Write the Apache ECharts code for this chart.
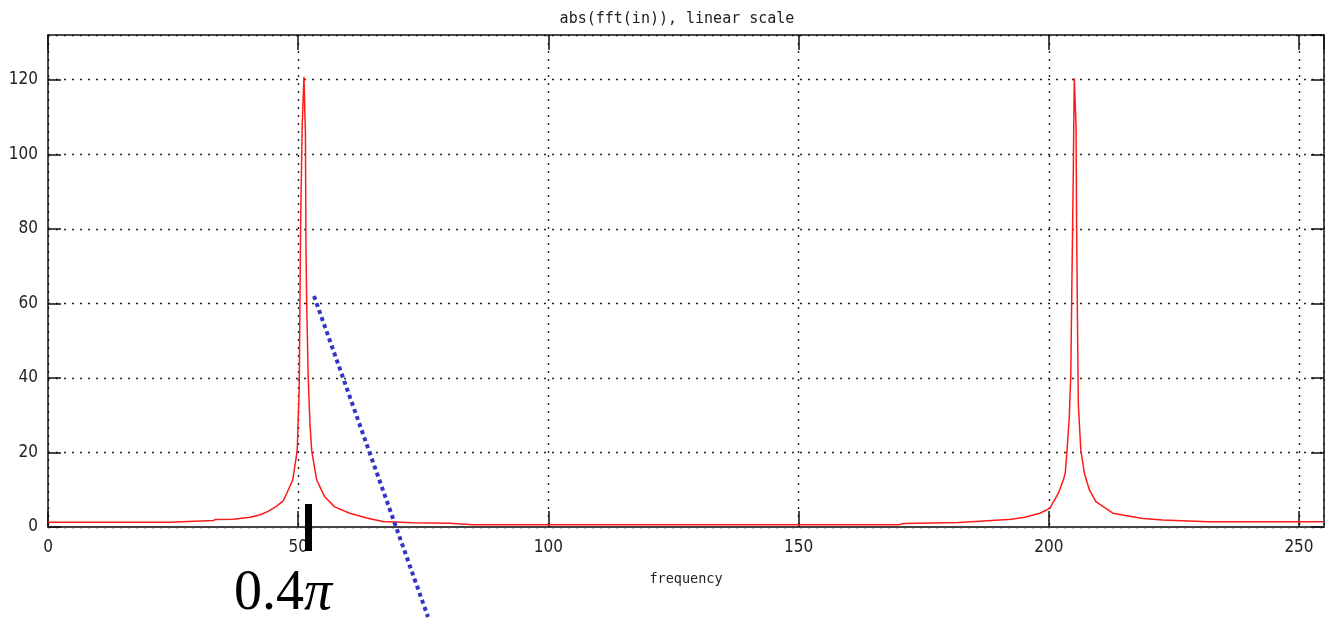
<!DOCTYPE html>
<html>
<head>
<meta charset="utf-8">
<title>abs(fft(in)), linear scale</title>
<script src="https://cdn.jsdelivr.net/npm/echarts@6/dist/echarts.min.js"></script>
<style>
  html, body { margin: 0; padding: 0; background: #ffffff; }
  #chart { width: 1325px; height: 618px; }
</style>
</head>
<body>
<div id="chart"></div>
<script>
// Magnitude spectrum of a sampled sinusoid (256-point FFT, tone at 0.4*pi)
const chartTitle = 'abs(fft(in)), linear scale';
const xAxisName = 'frequency';

// frequency positions (bins) and |FFT| magnitude at those positions
const freq = [
  0, 12, 24.3, 24.5, 33, 33.5, 37, 40.4, 42.4, 44.0, 45.7, 47.0, 47.7, 48.9, 49.8,
  50.2, 50.5, 50.8, 51.15, 51.45, 51.55, 51.7, 52.0, 52.35, 52.7, 53.7, 55.3, 57.3,
  60.3, 63.7, 66.9, 72.9, 80.3, 85, 170, 171, 182, 190.2, 192.5, 195.2, 198.2, 200.2,
  201.9, 202.9, 203.3, 203.7, 204.1, 204.4, 204.6, 204.9, 205.0, 205.1, 205.45,
  205.55, 205.7, 205.9, 206.4, 207.1, 208.1, 209.4, 212.8, 218.8, 222.8, 231.8, 255
];
const magnitude = [
  1.25, 1.25, 1.3, 1.65, 1.75, 2.0, 2.1, 2.6, 3.3, 4.2, 5.6, 7.0, 9.0, 12.6, 20.4,
  37, 83, 107.5, 120.8, 105, 75, 60, 40, 27.8, 20.4, 12.6, 8.1, 5.4,
  3.7, 2.4, 1.5, 1.15, 1.0, 0.6, 0.6, 0.95, 1.2, 1.9, 2.1, 2.6, 3.7, 5.0,
  9.0, 12.6, 14.5, 21.6, 29.6, 41, 63.6, 95, 108.8, 120.4, 107.5,
  83, 60, 33, 20.7, 14.5, 10, 6.8, 3.7, 2.3, 1.9, 1.4, 1.4
];

// axis ranges and tick spacing
const xRange = [0, 255];
const xStep = 50;
const yRange = [0, 132];
const yStep = 20;

// marker text under the frequency axis
const markerText = '0.4';
const markerSymbol = 'π';

const labelFont = "'Liberation Sans Narrow', 'DejaVu Sans Condensed', 'Liberation Sans', sans-serif";
const monoFont = "'DejaVu Sans Mono', 'Liberation Mono', monospace";
const gridDots = { type: [2, 6], color: '#222', width: 1.4 };

const chart = echarts.init(document.getElementById('chart'), null, { renderer: 'canvas' });

chart.setOption({
  animation: false,
  backgroundColor: '#ffffff',
  title: {
    text: chartTitle,
    left: 672,
    top: 7,
    textAlign: 'center',
    textStyle: { fontFamily: monoFont, fontSize: 15, fontWeight: 'normal', color: '#222' }
  },
  grid: { left: 48, right: 1, top: 35, bottom: 91 },
  xAxis: [
    {
      type: 'value',
      position: 'bottom',
      min: xRange[0], max: xRange[1], interval: xStep,
      name: xAxisName,
      nameLocation: 'middle',
      nameGap: 45,
      nameTextStyle: { fontFamily: monoFont, fontSize: 13.5, color: '#222' },
      axisLine: { show: true, onZero: false, lineStyle: { color: '#444', width: 2 } },
      axisTick: { show: true, inside: true, length: 16, lineStyle: { color: '#111', width: 1.5 } },
      axisLabel: { margin: 12, fontFamily: labelFont, fontSize: 17, color: '#222', showMaxLabel: false },
      splitLine: { show: true, lineStyle: gridDots }
    },
    {
      type: 'value',
      position: 'top',
      min: xRange[0], max: xRange[1], interval: xStep,
      axisLine: { show: true, onZero: false, lineStyle: { color: '#111', width: 1.5 } },
      axisTick: { show: true, inside: true, length: 15, lineStyle: { color: '#111', width: 1.5 } },
      axisLabel: { show: false },
      splitLine: { show: false }
    }
  ],
  yAxis: [
    {
      type: 'value',
      position: 'left',
      min: yRange[0], max: yRange[1], interval: yStep,
      axisLine: { show: true, onZero: false, lineStyle: { color: '#111', width: 1.5 } },
      axisTick: { show: true, inside: true, length: 13, lineStyle: { color: '#111', width: 1.5 } },
      axisLabel: { margin: 10, fontFamily: labelFont, fontSize: 17, color: '#222', showMaxLabel: false },
      splitLine: { show: true, lineStyle: gridDots }
    },
    {
      type: 'value',
      position: 'right',
      min: yRange[0], max: yRange[1], interval: yStep,
      axisLine: { show: true, onZero: false, lineStyle: { color: '#111', width: 1.5 } },
      axisTick: { show: true, inside: true, length: 13, lineStyle: { color: '#111', width: 1.5 } },
      axisLabel: { show: false },
      splitLine: { show: false }
    }
  ],
  series: [
    {
      type: 'line',
      xAxisIndex: 0,
      yAxisIndex: 0,
      data: freq.map((f, i) => [f, magnitude[i]]),
      showSymbol: false,
      symbol: 'none',
      lineStyle: { color: '#ff1a1a', width: 1.5 },
      clip: true,
      z: 5
    }
  ],
  graphic: [
    {
      type: 'line',
      shape: { x1: 314, y1: 296, x2: 428, y2: 617 },
      style: { stroke: '#3434c6', lineWidth: 4, lineDash: [4, 3.5] },
      z: 20
    },
    {
      type: 'rect',
      shape: { x: 305, y: 504, width: 7, height: 47 },
      style: { fill: '#000' },
      z: 20
    },
    {
      type: 'text',
      x: 234,
      y: 594,
      style: {
        text: '{n|' + markerText + '}{p|' + markerSymbol + '}',
        verticalAlign: 'middle',
        align: 'left',
        fill: '#000',
        rich: {
          n: { fontFamily: "'Liberation Serif', 'DejaVu Serif', serif", fontSize: 56, fill: '#000' },
          p: { fontFamily: "'Liberation Serif', 'DejaVu Serif', serif", fontSize: 56, fontStyle: 'italic', fill: '#000' }
        }
      },
      z: 20
    }
  ]
});
</script>
</body>
</html>
